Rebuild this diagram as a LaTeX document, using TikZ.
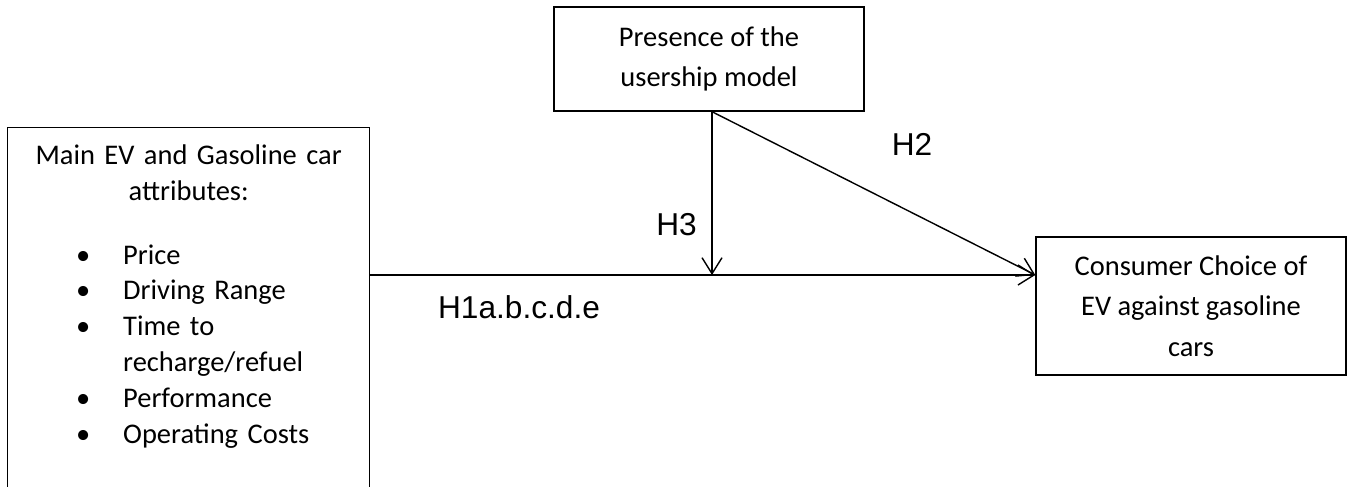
\documentclass[tikz,border=0pt]{standalone}
\usepackage{fontspec}
\setmainfont{Carlito}[WordSpace={1,0,0}]
\newfontfamily\hfont{Liberation Sans}
\usetikzlibrary{arrows.meta}
\newcommand{\bitem}[1]% bullet line
{\hspace*{1.37cm}\makebox[0.94cm][l]{\textbullet}#1\\}
\newcommand{\citem}[1]% continued line
{\hspace*{1.37cm}\makebox[0.94cm][l]{}#1\\}

\begin{document}
\begin{tikzpicture}[>={Straight Barb[length=3.2mm,width=4mm]},
	box/.style={draw,line width=0.8pt,fill=white,align=center,font=\fontsize{16.2}{23.2}\selectfont},
	hyp/.style={font=\hfont\fontsize{18}{20}\selectfont}]
			\useasboundingbox (0,0) rectangle (26.98,9.72);
			\node[draw,line width=0.8pt,anchor=north west,text width=7.24cm,inner xsep=0pt,inner ysep=6.5pt,align=left,font=\fontsize{16.2}{20.4}\selectfont] (attr) at (0.14,7.18)
			{{\centering\strut Main EV and Gasoline car\\ attributes:\par}\vspace{16pt}
			\bitem{Price}
			\bitem{Driving Range}
			\bitem{Time to}
			\citem{recharge/refuel}
			\bitem{Performance}
			\bitem{Operating Costs}
			\rule{0pt}{1.5cm}};
			\node[box,minimum width=6.2cm,minimum height=2.08cm] (usage) at (14.18,8.54) {Presence of the\\ usership model};
			\node[box,minimum width=6.2cm,minimum height=2.76cm] (choice) at (23.82,3.60) {Consumer Choice of\\ EV against gasoline\\ cars};
			\node[hyp] (h1) at (10.38,3.57) {H1a.b.c.d.e};
			\node[hyp] (h2) at (18.24,6.84) {H2};
			\node[hyp] (h3) at (13.53,5.22) {H3};
			\coordinate (hstart) at (7.38,4.22);
			\coordinate (join) at (14.24,4.22);
			\coordinate (top) at (join |- usage.south);
			\draw[line width=0.8pt] (hstart) -- (join);
			\draw[->,line width=0.8pt] (join) -- (hstart -| choice.west);
			\draw[->,line width=0.8pt] (top) -- (join);
			\draw[->,line width=0.8pt] (top) -- (hstart -| choice.west);
\end{tikzpicture}
\end{document}
